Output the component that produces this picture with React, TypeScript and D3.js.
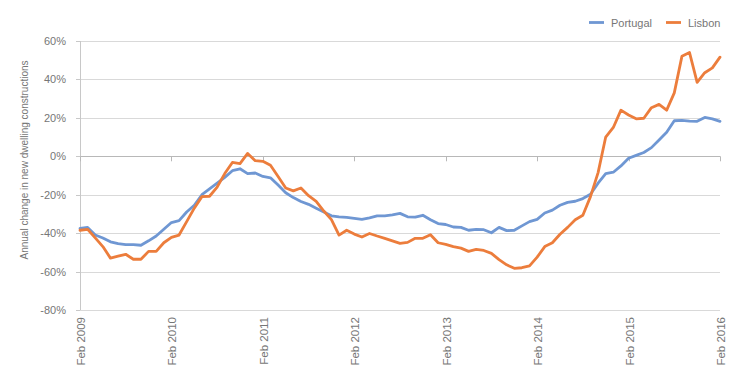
import React from "react";
import * as d3 from "d3";

const START_YEAR = 2009;
const YEAR_TICKS = [2009, 2010, 2011, 2012, 2013, 2014, 2015, 2016];
const Y_TICKS = [60, 40, 20, 0, -20, -40, -60, -80];
const SERIES_NAMES = ["Portugal", "Lisbon"];

// Monthly values, Feb 2009 .. Feb 2016 (85 months), annual % change
const portugal = [
  -37.5, -37, -41, -42.5, -44.5, -45.5, -46, -46, -46.3, -44, -41.5, -38,
  -34.5, -33.5, -29, -25.5, -20, -17, -14, -11, -7.5, -6.5, -9, -8.7,
  -10.5, -11.2, -15, -19, -21.5, -23.5, -25, -27, -29, -31, -31.5, -31.8,
  -32.3, -32.8, -32, -31, -31, -30.5, -29.7, -31.5, -31.7, -30.7, -33, -35,
  -35.5, -36.8, -37, -38.5, -38, -38.2, -39.8, -37, -38.7, -38.5, -36.2, -34,
  -32.8, -29.5, -28, -25.5, -24, -23.4, -22, -19.8, -14, -9, -8.3, -5,
  -1, 0.5, 2, 4.5, 8.5, 12.5, 18.5, 18.7, 18.3, 18.2, 20.2, 19.5,
  18.2,
];

const lisbon = [
  -38.5, -38, -42.5, -47, -53, -52, -51, -53.6, -53.6, -49.5, -49.5, -45,
  -42.2, -41, -34, -27, -21, -20.8, -16, -9, -3.2, -3.8, 1.5, -2.3,
  -2.6, -4.7, -10.5, -16.5, -18, -16.5, -20.5, -23.5, -28.5, -33, -41, -38.5,
  -40.5, -42, -40.2, -41.5, -42.7, -44, -45.3, -44.8, -42.7, -42.7, -40.8, -45,
  -45.8, -47, -47.8, -49.5, -48.4, -49, -50.5, -53.8, -56.5, -58.3, -58, -57,
  -52.5, -47, -45, -40.6, -37, -33, -30.7, -21, -8.5, 10, 15, 24,
  21.5, 19.5, 19.8, 25.3, 27, 24, 33, 52, 54, 38.5, 43.5, 46,
  51.6,
];

const COLORS = ["#6f97d3", "#ec7d3c"];
const W = 752;
const H = 379;
const FONT = "'Liberation Sans', Arial, Helvetica, sans-serif";
const TEXT = "#767676";

export default function App() {
  const x = d3.scaleLinear().domain([0, 84]).range([80, 720]);
  const y = d3.scaleLinear().domain([-80, 60]).range([310, 41]);
  const line = d3
    .line<number>()
    .x((_, i) => x(i))
    .y((d) => y(d));
  const series = [portugal, lisbon];

  return (
    <svg
      width={W}
      height={H}
      style={{ position: "absolute", left: 0, top: 0, background: "#fff" }}
      fontFamily={FONT}
    >
      {Y_TICKS.map((t) => (
        <line
          key={"g" + t}
          x1={80}
          x2={720}
          y1={Math.round(y(t)) + 0.5}
          y2={Math.round(y(t)) + 0.5}
          stroke={t === 0 ? "#b8b8b8" : "#d9d9d9"}
          strokeWidth={1}
        />
      ))}
      <line x1={80.5} x2={80.5} y1={y(60)} y2={y(-80)} stroke="#c8c8c8" />
      {Y_TICKS.map((t) => (
        <line
          key={"yt" + t}
          x1={76}
          x2={80}
          y1={Math.round(y(t)) + 0.5}
          y2={Math.round(y(t)) + 0.5}
          stroke="#c8c8c8"
        />
      ))}
      {Y_TICKS.map((t) => (
        <text
          key={"yl" + t}
          x={66}
          y={y(t) + 4}
          textAnchor="end"
          fontSize={11}
          fill={TEXT}
        >
          {t + "%"}
        </text>
      ))}
      {YEAR_TICKS.map((yr) => {
        const xi = Math.round(x((yr - START_YEAR) * 12)) + 0.5;
        return (
          <line
            key={"xt" + yr}
            x1={xi}
            x2={xi}
            y1={y(0)}
            y2={y(0) + 5}
            stroke="#b8b8b8"
          />
        );
      })}
      {YEAR_TICKS.map((yr) => {
        const xi = x((yr - START_YEAR) * 12);
        return (
          <text
            key={"xl" + yr}
            transform={`translate(${xi + 5},317) rotate(-90)`}
            textAnchor="end"
            fontSize={11.5}
            fill={TEXT}
          >
            {"Feb " + yr}
          </text>
        );
      })}
      <text
        transform={`translate(28,160) rotate(-90)`}
        textAnchor="middle"
        fontSize={10}
        fill={TEXT}
      >
        Annual change in new dwelling constructions
      </text>
      {series.map((s, k) => (
        <path
          key={"s" + k}
          d={line(s) || ""}
          fill="none"
          stroke={COLORS[k]}
          strokeWidth={2.8}
          strokeLinejoin="round"
          strokeLinecap="round"
        />
      ))}
      {SERIES_NAMES.map((name, k) => {
        const lx = k === 0 ? 589 : 666;
        return (
          <g key={"lg" + name}>
            <line
              x1={lx}
              x2={lx + 15}
              y1={22.5}
              y2={22.5}
              stroke={COLORS[k]}
              strokeWidth={2.8}
            />
            <text x={lx + 22} y={26.5} fontSize={11} fill={TEXT}>
              {name}
            </text>
          </g>
        );
      })}
    </svg>
  );
}
